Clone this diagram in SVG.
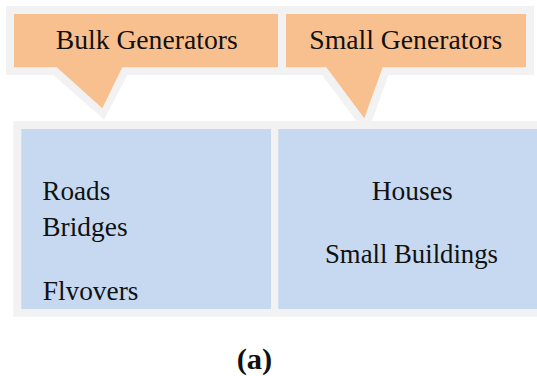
<svg xmlns="http://www.w3.org/2000/svg" width="537" height="376" viewBox="0 0 537 376">
<style>
.frame{fill:#F2F2F2}
.callout{fill:#F9C08F}
.box{fill:#C6D9F0}
.t{font-family:'Liberation Serif','Times New Roman',serif;font-size:27px;fill:#111}
.cap{font-family:'Liberation Serif','Times New Roman',serif;font-size:29px;font-weight:bold;fill:#111}
</style>
<defs>
<clipPath id="flyClip"><rect x="30" y="260" width="200" height="40"/></clipPath>
</defs>
<rect width="537" height="376" fill="#fff"/>
<g id="bulk-generators">
<path class="frame" d="M6,6 H286 V75 H127.5 L104,119.5 L53.3,75 H6 Z"/>
<path class="callout" d="M14,14 H278 V67.3 H122.3 L102.3,108.3 L56.7,67.3 H14 Z"/>
<text class="t" x="55.7" y="49.3" textLength="182" lengthAdjust="spacingAndGlyphs">Bulk Generators</text>
</g>
<g id="small-generators">
<path class="frame" d="M278,6 H534 V75 H388.4 L367,135 L322,75 H278 Z"/>
<path class="callout" d="M286,14 H526 V67.3 H382.7 L364.3,118.3 L326.3,67.3 H286 Z"/>
<text class="t" x="309.3" y="49.3" textLength="193" lengthAdjust="spacingAndGlyphs">Small Generators</text>
</g>
<g id="frame-bottom">
<rect class="frame" x="13.3" y="121" width="523.7" height="195.7"/>
</g>
<g id="bulk-box">
<rect class="box" x="21.3" y="129" width="249.7" height="180"/>
<text class="t" x="42.3" y="200" textLength="68" lengthAdjust="spacingAndGlyphs">Roads</text>
<text class="t" x="42.3" y="235.7" textLength="85.3" lengthAdjust="spacingAndGlyphs">Bridges</text>
<g clip-path="url(#flyClip)">
<text class="t" x="42.7" y="300" textLength="95.7" lengthAdjust="spacingAndGlyphs">Flyovers</text>
</g>
</g>
<g id="small-box">
<rect class="box" x="278.3" y="129" width="258.7" height="180"/>
<text class="t" x="371.7" y="200" textLength="81" lengthAdjust="spacingAndGlyphs">Houses</text>
<text class="t" x="325" y="262.7" textLength="173" lengthAdjust="spacingAndGlyphs">Small Buildings</text>
</g>
<g id="caption">
<text class="cap" x="236.7" y="368.5" textLength="35.6" lengthAdjust="spacingAndGlyphs">(a)</text>
</g>
</svg>
